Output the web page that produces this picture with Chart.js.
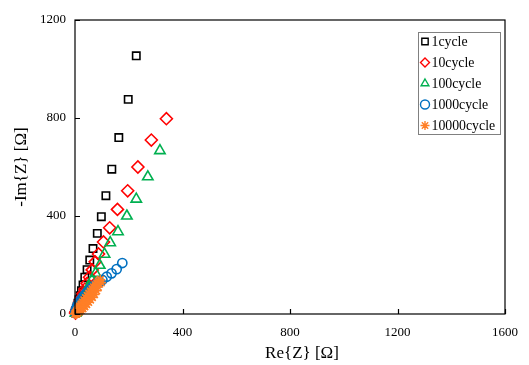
<!DOCTYPE html>
<html><head><meta charset="utf-8">
<script src="https://cdn.jsdelivr.net/npm/chart.js@4.4.0/dist/chart.umd.min.js"></script>
<style>html,body{margin:0;padding:0;background:#fff}</style>
</head><body>
<canvas id="c" width="529" height="365"></canvas>
<script>
const seriesLabels = ['1cycle', '10cycle', '100cycle', '1000cycle', '10000cycle'];
const re1 = [2, 3, 4, 6, 8, 11, 15, 19, 24, 30, 36.5, 45, 55, 67, 83, 98, 115, 137, 163, 198, 228];
const im1 = [4, 8, 14, 22, 32, 44, 58, 75, 95, 118, 150, 181, 220, 267, 329, 397, 483, 591, 720, 876, 1054];
const re10 = [2, 4, 7, 10, 14, 19, 24, 30, 37, 45, 54, 64, 75, 87.5, 106, 129, 158, 196, 234, 284, 340];
const im10 = [4, 10, 18, 27, 39, 52, 66, 83, 102, 125, 150, 180, 213, 245, 294, 352, 427, 503, 600, 710, 797];
const re100 = [2, 4, 6, 9, 13, 17, 22, 28, 35, 43, 52, 63, 76.5, 92, 110, 131, 160, 193, 228, 271, 316];
const im100 = [3, 7, 12, 19, 27, 36, 47, 60, 75, 93, 114, 138, 166, 199, 244, 291, 336, 400, 469, 560, 667];
const re1000 = [1, 2, 4, 7, 11, 16, 22, 29, 37, 46, 56, 67, 79, 91, 102, 118, 136, 155, 176];
const im1000 = [5, 12, 20, 29, 38, 48, 58, 68, 79, 90, 101, 112, 121, 130, 139, 152, 166, 183, 208];
const re10000 = [0, 2, 4, 7, 10, 14, 18, 23, 28, 34, 40, 46, 52, 58, 64, 70, 76, 82, 88, 94, 5, 10, 16, 22, 29, 36, 43, 50, 57, 64, 72, 80, 86, 97];
const im10000 = [0, 3, 7, 12, 18, 25, 32, 40, 48, 57, 66, 75, 84, 93, 102, 110, 118, 126, 133, 140, 0, 4, 9, 15, 22, 30, 39, 48, 58, 68, 80, 95, 110, 128];
const xTicks = [0, 400, 800, 1200, 1600];
const yTicks = [0, 400, 800, 1200];
const xTitle = 'Re{Z} [Ω]';
const yTitle = '-Im{Z} [Ω]';

const colors = ['#000000', '#ff0000', '#00b050', '#0070c0', '#ff7f27'];
const styles = ['rect', 'rectRot', 'triangle', 'circle', 'star'];
const radii = [5.2, 6, 6, 4.6, 5];
const reAll = [re1, re10, re100, re1000, re10000];
const imAll = [im1, im10, im100, im1000, im10000];

const datasets = seriesLabels.map((lab, i) => ({
  label: lab,
  data: reAll[i].map((x, k) => ({x: x, y: imAll[i][k]})),
  showLine: false,
  pointStyle: styles[i],
  pointRadius: radii[i],
  pointHoverRadius: radii[i],
  borderColor: colors[i],
  backgroundColor: 'rgba(0,0,0,0)',
  pointBorderWidth: 1.6,
  borderWidth: 1.6,
  order: seriesLabels.length - i,
  clip: false
}));

const FONT = "'Liberation Serif', 'Times New Roman', serif";

const framePlugin = {
  id: 'frame',
  afterDatasetsDraw(chart) {
    const ctx = chart.ctx, a = chart.chartArea;
    const xs = chart.scales.x, ys = chart.scales.y;
    ctx.save();
    ctx.strokeStyle = '#000';
    ctx.lineWidth = 1.2;
    ctx.strokeRect(a.left, a.top, a.right - a.left, a.bottom - a.top);
    ctx.beginPath();
    xTicks.forEach(v => {
      const px = Math.round(xs.getPixelForValue(v)) + 0.5;
      ctx.moveTo(px, a.bottom); ctx.lineTo(px, a.bottom - 5);
    });
    yTicks.forEach(v => {
      const py = Math.round(ys.getPixelForValue(v)) + 0.5;
      ctx.moveTo(a.left, py); ctx.lineTo(a.left + 5, py);
    });
    ctx.stroke();
    // axis titles
    ctx.fillStyle = '#000';
    ctx.font = '17px ' + FONT;
    ctx.textAlign = 'center';
    ctx.textBaseline = 'middle';
    ctx.fillText(xTitle, 302, 354);
    ctx.save();
    ctx.translate(22, 167);
    ctx.rotate(-Math.PI / 2);
    ctx.fillText(yTitle, 0, 0);
    ctx.restore();
    // legend
    const bx = 418, by = 32, bw = 82, bh = 102;
    ctx.fillStyle = '#fff';
    ctx.fillRect(bx, by, bw, bh);
    ctx.strokeStyle = '#808080';
    ctx.lineWidth = 1;
    ctx.strokeRect(bx + 0.5, by + 0.5, bw, bh);
    ctx.font = '13.8px ' + FONT;
    ctx.textBaseline = 'middle';
    ctx.textAlign = 'left';
    chart.data.datasets.forEach((ds, i) => {
      const y = by + 9.5 + i * 21;
      ctx.strokeStyle = ds.borderColor;
      ctx.fillStyle = 'rgba(0,0,0,0)';
      ctx.lineWidth = 1.4;
      Chart.helpers.drawPoint(ctx, {pointStyle: ds.pointStyle, radius: 4.5, borderWidth: 1.4}, bx + 7, y);
      ctx.fillStyle = '#000';
      ctx.fillText(ds.label, bx + 13.5, y + 1);
    });
    ctx.restore();
  }
};

new Chart(document.getElementById('c'), {
  type: 'scatter',
  data: {datasets: datasets},
  options: {
    responsive: false,
    animation: false,
    events: [],
    layout: {padding: {top: 20, right: 15, left: 0, bottom: 0}},
    plugins: {legend: {display: false}, tooltip: {enabled: false}},
    scales: {
      x: {
        type: 'linear', min: 0, max: 1600,
        afterBuildTicks: s => { s.ticks = xTicks.map(v => ({value: v})); },
        afterFit: s => { s.height = 51; },
        grid: {display: false, drawTicks: false},
        border: {display: false},
        ticks: {color: '#000', font: {family: FONT, size: 13}, padding: 11, maxRotation: 0, callback: v => String(v)}
      },
      y: {
        type: 'linear', min: 0, max: 1200,
        afterBuildTicks: s => { s.ticks = yTicks.map(v => ({value: v})); },
        afterFit: s => { s.width = 75; },
        grid: {display: false, drawTicks: false},
        border: {display: false},
        ticks: {color: '#000', font: {family: FONT, size: 13}, padding: 9, callback: v => String(v)}
      }
    }
  },
  plugins: [framePlugin]
});
</script>
</body></html>
